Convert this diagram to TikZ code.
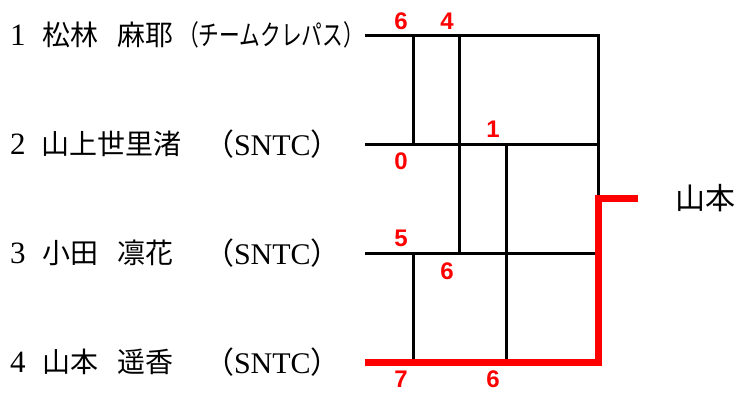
\documentclass[tikz,border=0pt]{standalone}
\usepackage{fontspec}
\usepackage{graphicx}
\setmainfont{Liberation Serif}
\newfontfamily\jpfont{Noto Sans CJK JP}
\newfontfamily\scorefont{Liberation Sans}
\usetikzlibrary{positioning}

\begin{document}
\begin{tikzpicture}[x=1pt,y=-1pt]
\tikzstyle{every node}=[inner sep=0pt,outer sep=0pt]
\tikzstyle{player}=[anchor=west,font=\fontsize{28}{28}\selectfont]
\tikzstyle{seed}=[anchor=west,font=\fontsize{31}{31}\selectfont]
\tikzstyle{club}=[anchor=west,font=\fontsize{30}{30}\selectfont]
\tikzstyle{score}=[text=red,font=\scorefont\bfseries\fontsize{24}{24}\selectfont]
\tikzstyle{rung}=[line width=3pt]
\tikzstyle{winline}=[line width=7pt,red]
\useasboundingbox (0,0) rectangle (743,394);

% players
\node[seed] (no1) at (10,35) {1};
\node[player] (na1) at (42,35) {\jpfont 松林};
\node[player] (nb1) at (117,35) {\jpfont 麻耶};
\node[player] (cl1) at (178,35) {\scalebox{0.74}[1]{\jpfont （チームクレパス）}};
\node[seed] (no2) at (10,144) {2};
\node[player] (na2) at (41,144) {\jpfont 山上世里渚};
\node[club] (cl2) at (204,144) {{\jpfont （}SNTC{\jpfont ）}};
\node[seed] (no3) at (10,253) {3};
\node[player] (na3) at (42,253) {\jpfont 小田};
\node[player] (nb3) at (117,253) {\jpfont 凛花};
\node[club] (cl3) at (204,253) {{\jpfont （}SNTC{\jpfont ）}};
\node[seed] (no4) at (10,362) {4};
\node[player] (na4) at (42,362) {\jpfont 山本};
\node[player] (nb4) at (117,362) {\jpfont 遥香};
\node[club] (cl4) at (204,362) {{\jpfont （}SNTC{\jpfont ）}};

% bracket
\coordinate (s1) at (365,35);
\coordinate (s2) at (365,144);
\coordinate (s3) at (365,253);
\coordinate (s4) at (365,362);
\coordinate (e1) at (598.5,35);
\coordinate (e2) at (598.5,144);
\coordinate (e3) at (598.5,253);
\coordinate (e4) at (598.5,362);
\coordinate (top) at (598.5,198.5);
\coordinate (out) at (638,198.5);

\draw[rung] (s1) -- (e1) -- (top);
\draw[rung] (s2) -- (e2);
\draw[rung] (s3) -- (e3);
\draw[rung] (s1 -| 413,0) -- (s2 -| 413,0);
\draw[rung] (s1 -| 459,0) -- (s3 -| 459,0);
\draw[rung] (s2 -| 506,0) -- (s4 -| 506,0);
\draw[rung] (s3 -| 413,0) -- (s4 -| 413,0);
\draw[winline] (s4) -- (e4) -- (top) -- (out);

% scores
\node[score] (g1a) at (401,21) {6};
\node[score] (g1b) at (447,21) {4};
\node[score] (g2a) at (401,161) {0};
\node[score] (g2b) at (493,129) {1};
\node[score] (g3a) at (401,238) {5};
\node[score] (g3b) at (447,271) {6};
\node[score] (g4a) at (401,379) {7};
\node[score] (g4b) at (493,379) {6};

\node[anchor=west,font=\jpfont\fontsize{30}{30}\selectfont] (champ) at (675,198) {山本};
\end{tikzpicture}
\end{document}
